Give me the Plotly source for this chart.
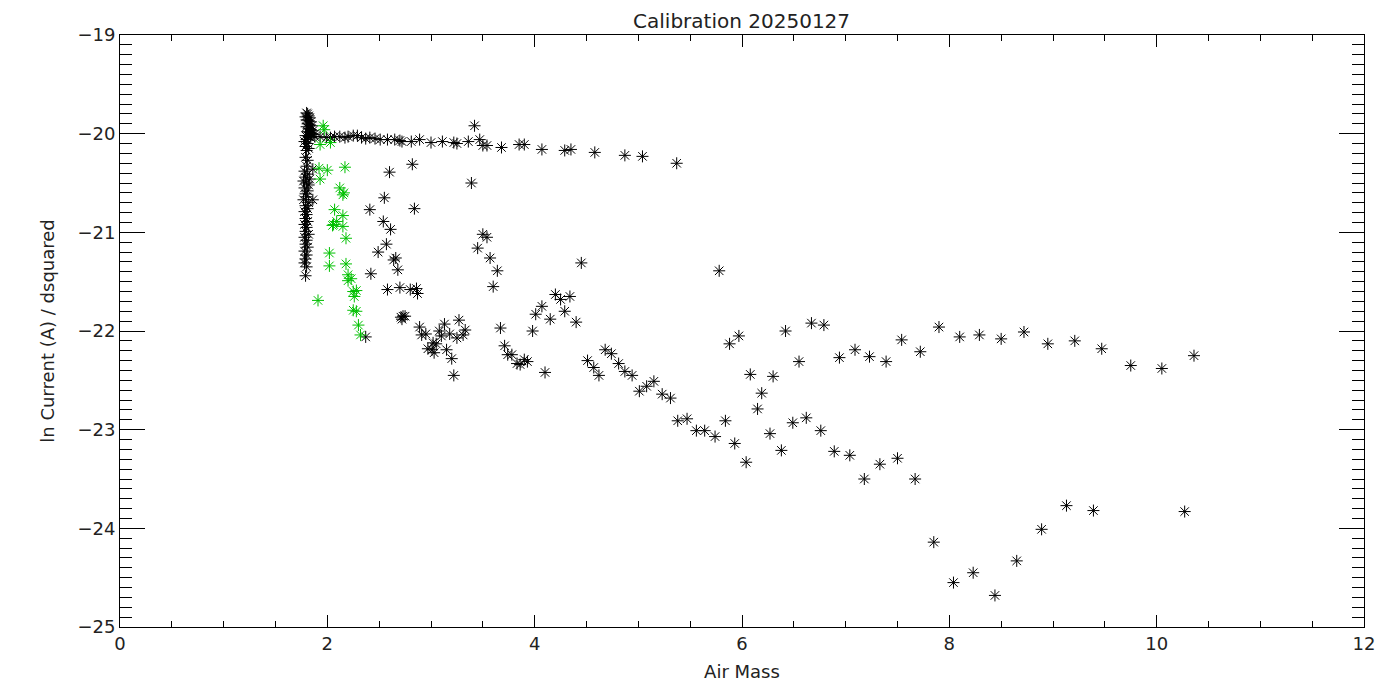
import plotly.graph_objects as go

# ---- black series (air mass, ln current / d^2) ----
black_x = [
    # vertical cluster near air mass 1.8
    1.80, 1.81, 1.82, 1.79, 1.83, 1.80, 1.82, 1.84, 1.81, 1.83, 1.85, 1.80, 1.82, 1.84, 1.86,
    1.81, 1.83, 1.85, 1.87, 1.79, 1.82, 1.84, 1.80, 1.78, 1.81, 1.79, 1.82, 1.80, 1.79, 1.81,
    1.80, 1.78, 1.81, 1.79, 1.83, 1.77, 1.80, 1.82, 1.78, 1.81, 1.79, 1.80, 1.77, 1.82, 1.79,
    1.81, 1.78, 1.80, 1.79, 1.81, 1.78, 1.80, 1.79, 1.82, 1.78, 1.80, 1.79, 1.81, 1.78, 1.80,
    1.79, 1.78, 1.80, 1.79, 1.86, 1.86,
    # upper branch
    1.88, 1.93, 1.99, 2.03, 2.07, 2.12, 2.17, 2.20, 2.25, 2.29, 2.33, 2.37, 2.41, 2.46, 2.51,
    2.58, 2.65, 2.70, 2.72, 2.81, 2.89, 3.00, 3.11, 3.22, 3.25, 3.36, 3.42, 3.47, 3.50, 3.54,
    3.68, 3.85, 3.90, 4.07, 4.29, 4.35, 4.58, 4.87, 5.04, 5.37,
    # scattered middle
    2.82, 3.39, 2.84, 2.60, 2.55, 2.54, 2.61, 2.57, 2.41, 3.50, 3.54, 3.45, 3.57, 3.64, 3.60,
    4.45, 5.78, 2.64, 2.66, 2.68, 2.49, 2.42, 2.58, 2.70, 2.80, 2.86, 2.87, 2.73, 2.71, 2.75,
    2.72, 2.37, 2.89, 2.91, 2.95, 3.13, 3.27, 3.08, 3.10, 3.18, 3.33, 3.31, 3.25, 3.02, 3.05,
    2.97, 3.01, 3.03, 3.15, 3.20, 3.22, 3.67, 3.98, 3.71, 3.74, 3.78, 3.83, 3.86, 3.90, 3.93,
    4.10, 4.20, 4.25, 4.34, 4.07, 4.01, 4.15, 4.29, 4.40, 4.51, 4.57, 4.62, 4.68, 4.74, 4.81,
    4.87, 4.94, 5.01, 5.08, 5.15, 5.23, 5.31, 5.38, 5.47, 5.56, 5.64, 5.74, 5.84, 5.93, 6.04,
    # upper-right band
    5.88, 5.97, 6.08, 6.19, 6.15, 6.30, 6.42, 6.55, 6.67, 6.79, 6.94, 7.09, 7.23, 7.39, 7.54,
    7.72, 7.90, 8.10, 8.29, 8.50, 8.72, 8.95, 9.21, 9.47, 9.75, 10.05, 10.36,
    # lower band
    6.27, 6.38, 6.49, 6.62, 6.76, 6.89, 7.04, 7.18, 7.33, 7.50, 7.67,
    # bottom
    7.85, 8.04, 8.23, 8.44, 8.65, 8.89, 9.13, 9.39, 10.27,
]
black_y = [
    -19.79, -19.80, -19.82, -19.83, -19.84, -19.86, -19.87, -19.88, -19.90, -19.91, -19.92, -19.93, -19.95, -19.96, -19.97,
    -19.98, -19.99, -20.00, -20.01, -20.02, -20.03, -20.04, -20.06, -20.08, -20.10, -20.13, -20.15, -20.17, -20.24, -20.27,
    -20.33, -20.38, -20.41, -20.44, -20.46, -20.48, -20.50, -20.52, -20.55, -20.58, -20.61, -20.64, -20.67, -20.70, -20.73,
    -20.76, -20.79, -20.82, -20.86, -20.89, -20.92, -20.95, -20.99, -21.02, -21.05, -21.08, -21.12, -21.15, -21.19, -21.23,
    -21.27, -21.31, -21.35, -21.44, -20.36, -20.67,
    -20.03, -20.03, -20.04, -20.04, -20.03, -20.03, -20.04, -20.03, -20.02, -20.02, -20.04, -20.05, -20.04, -20.05, -20.06,
    -20.06, -20.06, -20.07, -20.08, -20.08, -20.06, -20.09, -20.08, -20.09, -20.10, -20.08, -19.92, -20.06, -20.12, -20.12,
    -20.14, -20.11, -20.11, -20.16, -20.17, -20.16, -20.19, -20.22, -20.23, -20.30,
    -20.31, -20.50, -20.76, -20.39, -20.65, -20.89, -20.97, -21.12, -20.77, -21.02, -21.05, -21.16, -21.26, -21.39, -21.55,
    -21.31, -21.39, -21.28, -21.26, -21.38, -21.20, -21.42, -21.58, -21.56, -21.58, -21.57, -21.62, -21.85, -21.86, -21.85,
    -21.88, -22.06, -21.96, -22.04, -22.03, -21.93, -21.89, -22.00, -22.05, -22.03, -21.99, -22.04, -22.07, -22.12, -22.13,
    -22.18, -22.19, -22.22, -22.19, -22.28, -22.45, -21.97, -22.00, -22.15, -22.24, -22.24, -22.33, -22.34, -22.29, -22.31,
    -22.42, -21.63, -21.68, -21.65, -21.75, -21.83, -21.88, -21.80, -21.91, -22.30, -22.37, -22.45, -22.19, -22.23, -22.33,
    -22.41, -22.45, -22.61, -22.56, -22.51, -22.64, -22.68, -22.91, -22.89, -23.01, -23.01, -23.07, -22.91, -23.14, -23.33,
    -22.13, -22.05, -22.44, -22.63, -22.79, -22.46, -22.00, -22.31, -21.92, -21.94, -22.27, -22.19, -22.26, -22.31, -22.09,
    -22.21, -21.96, -22.06, -22.04, -22.08, -22.01, -22.13, -22.10, -22.18, -22.35, -22.38, -22.25,
    -23.04, -23.21, -22.93, -22.88, -23.01, -23.22, -23.26, -23.50, -23.35, -23.29, -23.50,
    -24.14, -24.55, -24.45, -24.68, -24.33, -24.01, -23.77, -23.82, -23.83,
]

# ---- green series ----
green_x = [1.96, 1.97, 1.93, 2.03, 1.92, 2.00, 2.17, 1.93, 2.12, 2.15, 2.16, 2.07, 2.15, 2.06, 2.09,
           2.15, 2.05, 2.18, 2.02, 2.02, 2.18, 2.20, 2.23, 2.20, 2.25, 2.28, 2.26, 2.25, 2.28, 1.91,
           2.30, 2.32]
green_y = [-19.92, -19.96, -20.11, -20.09, -20.35, -20.37, -20.34, -20.46, -20.55, -20.62, -20.60, -20.77, -20.83, -20.92, -20.89,
           -20.94, -20.93, -21.06, -21.21, -21.34, -21.32, -21.43, -21.47, -21.49, -21.60, -21.59, -21.65, -21.79, -21.80, -21.69,
           -21.94, -22.04]

x_ticks = [0, 2, 4, 6, 8, 10, 12]
y_ticks = [-25, -24, -23, -22, -21, -20, -19]

FONT = "DejaVu Sans"

fig = go.Figure()
fig.add_trace(go.Scatter(
    x=black_x, y=black_y, mode="markers",
    marker=dict(symbol="asterisk-open", size=10, color="black", line=dict(width=1, color="black")),
    showlegend=False, hoverinfo="x+y"))
fig.add_trace(go.Scatter(
    x=green_x, y=green_y, mode="markers",
    marker=dict(symbol="asterisk-open", size=10, color="#00c000", line=dict(width=1, color="#00c000")),
    showlegend=False, hoverinfo="x+y"))

axis_common = dict(
    showline=True, linecolor="black", linewidth=1, mirror="ticks",
    ticks="inside", tickcolor="black", tickwidth=1,
    showgrid=False, zeroline=False,
    tickfont=dict(family=FONT, size=18, color="#222222"),
)

fig.update_xaxes(
    range=[0, 12], tickvals=x_ticks, ticktext=[str(v) for v in x_ticks], ticklen=12,
    minor=dict(dtick=0.5, ticks="inside", ticklen=6, tickcolor="black", tickwidth=1, showgrid=False),
    title=dict(text="Air Mass", font=dict(family=FONT, size=18, color="#222222"), standoff=12),
    **axis_common)
fig.update_yaxes(
    range=[-25, -19], tickvals=y_ticks, ticktext=["\u2212" + str(abs(v)) for v in y_ticks], ticklen=25,
    minor=dict(dtick=0.1, ticks="inside", ticklen=12, tickcolor="black", tickwidth=1, showgrid=False),
    title=dict(text="ln Current (A) / dsquared", font=dict(family=FONT, size=18, color="#222222"), standoff=18),
    **axis_common)

fig.update_layout(
    width=1400, height=700,
    margin=dict(l=112, r=44, t=27, b=81),
    paper_bgcolor="white", plot_bgcolor="white",
    title=dict(text="Calibration 20250127", x=0.524, xanchor="center", y=0.982, yanchor="middle",
               font=dict(family=FONT, size=20, color="#222222")),
)

fig.write_html("out.html")
